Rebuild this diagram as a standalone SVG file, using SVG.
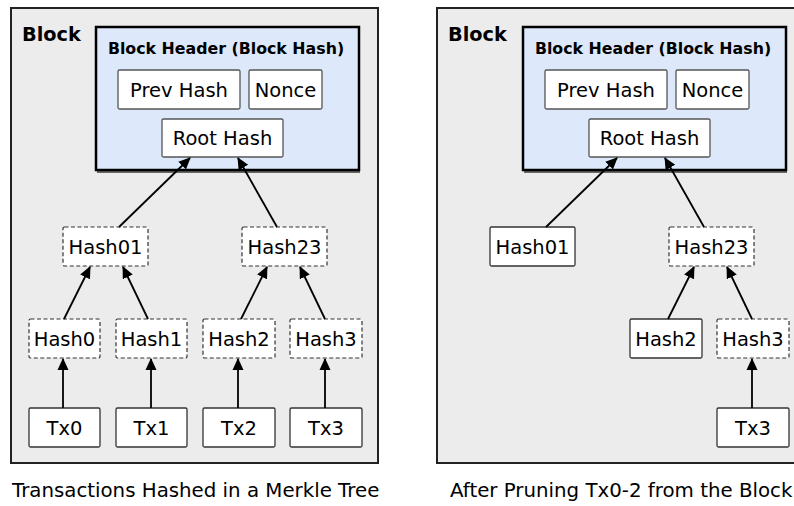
<svg xmlns="http://www.w3.org/2000/svg" width="794" height="506" viewBox="0 0 794 506">
<defs>
<style>
.blk{fill:#ececec;stroke:#222;stroke-width:2}
.hdr{fill:#dde9fb;stroke:#000;stroke-width:2.5}
.shd{fill:#666}
.box{fill:#fff;stroke:#555;stroke-width:1.3}
.tx{fill:#fff;stroke:#333;stroke-width:1.3}
.dash{fill:#fff;stroke:#333;stroke-width:1.2;stroke-dasharray:4,2.5}
text{font-family:"DejaVu Sans","Liberation Sans",sans-serif;fill:#000}
.lbl{font-size:19.5px;text-anchor:middle}
.bold{font-weight:bold}
.cap{font-size:19.8px}
.con line{stroke:#000;stroke-width:1.8;marker-end:url(#ah)}
</style>
<marker id="ah" markerUnits="userSpaceOnUse" markerWidth="12" markerHeight="12" refX="11" refY="6" orient="auto" viewBox="0 0 12 12">
<path d="M0,0.5 L12,6 L0,11.5 z" fill="#000"/>
</marker>
</defs>

<!-- LEFT BLOCK -->
<g id="left-block">
<rect class="blk" x="11" y="8" width="367" height="455"/>
<text class="bold" x="22" y="41" font-size="19.3">Block</text>
</g>
<g id="left-header">
<rect class="shd" x="97" y="29" width="263" height="144"/>
<rect class="hdr" x="96" y="27" width="263" height="143"/>
<text class="bold" x="226" y="54" font-size="15.8" text-anchor="middle">Block Header (Block Hash)</text>
</g>
<g id="left-prev"><rect class="box" x="118" y="70" width="122" height="39" rx="1.5"/><text class="lbl" x="179" y="96.5">Prev Hash</text></g>
<g id="left-nonce"><rect class="box" x="249" y="70" width="73" height="39" rx="1.5"/><text class="lbl" x="285.5" y="96.5">Nonce</text></g>
<g id="left-root"><rect class="box" x="162" y="119" width="121" height="38" rx="1.5"/><text class="lbl" x="222.5" y="145">Root Hash</text></g>
<g id="left-hash01"><rect class="dash" x="63" y="227" width="85" height="39" rx="1.5"/><text class="lbl" x="105.5" y="253.5">Hash01</text></g>
<g id="left-hash23"><rect class="dash" x="242" y="227" width="85" height="39" rx="1.5"/><text class="lbl" x="284.5" y="253.5">Hash23</text></g>
<g id="left-hash0"><rect class="dash" x="29" y="319" width="71" height="39" rx="1.5"/><text class="lbl" x="64.5" y="345.5">Hash0</text></g>
<g id="left-hash1"><rect class="dash" x="116" y="319" width="71" height="39" rx="1.5"/><text class="lbl" x="151.5" y="345.5">Hash1</text></g>
<g id="left-hash2"><rect class="dash" x="203" y="319" width="72" height="39" rx="1.5"/><text class="lbl" x="239" y="345.5">Hash2</text></g>
<g id="left-hash3"><rect class="dash" x="290" y="319" width="72" height="39" rx="1.5"/><text class="lbl" x="326" y="345.5">Hash3</text></g>
<g id="left-tx0"><rect class="tx" x="29" y="408" width="71" height="39" rx="1.5"/><text class="lbl" x="64.5" y="434.5">Tx0</text></g>
<g id="left-tx1"><rect class="tx" x="116" y="408" width="71" height="39" rx="1.5"/><text class="lbl" x="151.5" y="434.5">Tx1</text></g>
<g id="left-tx2"><rect class="tx" x="203" y="408" width="72" height="39" rx="1.5"/><text class="lbl" x="239" y="434.5">Tx2</text></g>
<g id="left-tx3"><rect class="tx" x="290" y="408" width="72" height="39" rx="1.5"/><text class="lbl" x="326" y="434.5">Tx3</text></g>
<text class="cap" x="12" y="497">Transactions Hashed in a Merkle Tree</text>

<!-- RIGHT BLOCK -->
<g id="right-block">
<rect class="blk" x="437" y="8" width="367" height="455"/>
<text class="bold" x="448" y="41" font-size="19.3">Block</text>
</g>
<g id="right-header">
<rect class="shd" x="524" y="29" width="263" height="144"/>
<rect class="hdr" x="523" y="27" width="263" height="143"/>
<text class="bold" x="653" y="54" font-size="15.8" text-anchor="middle">Block Header (Block Hash)</text>
</g>
<g id="right-prev"><rect class="box" x="545" y="70" width="122" height="39" rx="1.5"/><text class="lbl" x="606" y="96.5">Prev Hash</text></g>
<g id="right-nonce"><rect class="box" x="676" y="70" width="73" height="39" rx="1.5"/><text class="lbl" x="712.5" y="96.5">Nonce</text></g>
<g id="right-root"><rect class="box" x="589" y="119" width="121" height="38" rx="1.5"/><text class="lbl" x="649.5" y="145">Root Hash</text></g>
<g id="right-hash01"><rect class="tx" x="490" y="227" width="85" height="39" rx="1.5"/><text class="lbl" x="532.5" y="253.5">Hash01</text></g>
<g id="right-hash23"><rect class="dash" x="669" y="227" width="85" height="39" rx="1.5"/><text class="lbl" x="711.5" y="253.5">Hash23</text></g>
<g id="right-hash2"><rect class="tx" x="630" y="319" width="72" height="39" rx="1.5"/><text class="lbl" x="666" y="345.5">Hash2</text></g>
<g id="right-hash3"><rect class="dash" x="717" y="319" width="72" height="39" rx="1.5"/><text class="lbl" x="753" y="345.5">Hash3</text></g>
<g id="right-tx3"><rect class="tx" x="717" y="408" width="72" height="39" rx="1.5"/><text class="lbl" x="753" y="434.5">Tx3</text></g>
<text class="cap" x="450" y="497" font-size="19.5">After Pruning Tx0-2 from the Block</text>

<!-- CONNECTORS -->
<g id="connectors" class="con">
<line x1="119" y1="227" x2="190" y2="158"/>
<line x1="277" y1="227" x2="238" y2="158"/>
<line x1="64" y1="319" x2="90" y2="267"/>
<line x1="148" y1="319" x2="123" y2="267"/>
<line x1="241" y1="319" x2="267" y2="267"/>
<line x1="325" y1="319" x2="300" y2="267"/>
<line x1="63" y1="408" x2="63" y2="359"/>
<line x1="151" y1="408" x2="151" y2="359"/>
<line x1="238" y1="408" x2="238" y2="359"/>
<line x1="325" y1="408" x2="325" y2="359"/>
<line x1="546" y1="227" x2="617" y2="158"/>
<line x1="704" y1="227" x2="665" y2="158"/>
<line x1="668" y1="319" x2="694" y2="267"/>
<line x1="752" y1="319" x2="727" y2="267"/>
<line x1="752" y1="408" x2="752" y2="359"/>
</g>
</svg>
